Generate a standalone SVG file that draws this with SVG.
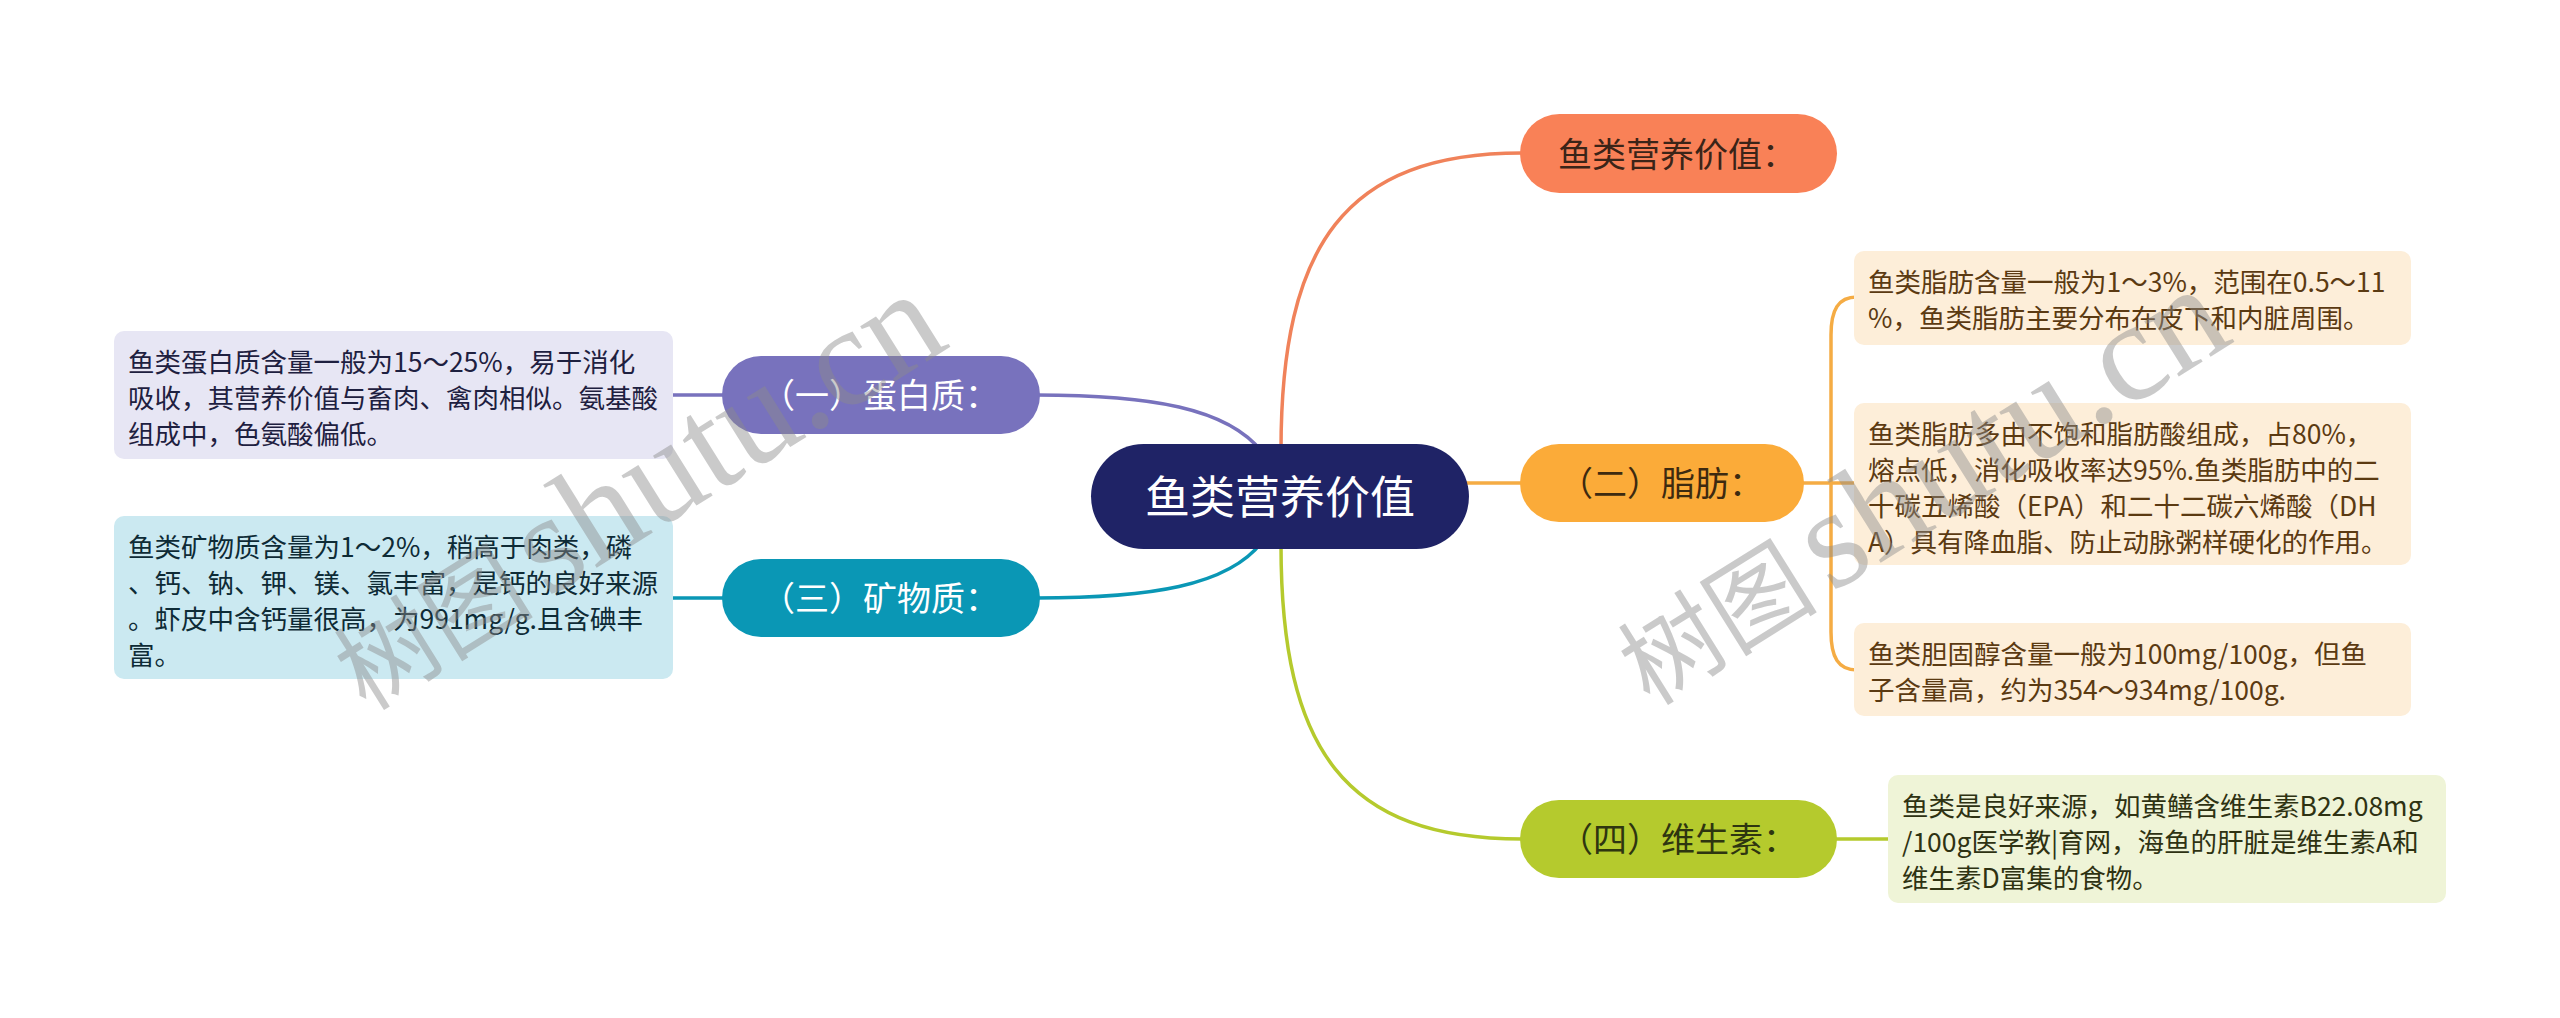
<svg xmlns="http://www.w3.org/2000/svg" width="2560" height="1018" viewBox="0 0 2560 1018">
<style>
.lbl{font-family:"Noto Sans CJK SC","Noto Sans",sans-serif;}
.leaf{font-family:"Noto Sans CJK SC","Noto Sans",sans-serif;font-size:26.5px;}
.con{fill:none;stroke-width:3.5;stroke-linecap:round;}
.wm{font-family:"Liberation Serif","Noto Sans CJK SC",serif;fill:#8c8c8c;opacity:0.45;}
</style>
<rect width="2560" height="1018" fill="#ffffff"/>
<g id="connectors">
  <path class="con" stroke="#f0825a" d="M1281,450 C1281,245 1345,153 1522,153"/>
  <path class="con" stroke="#b5ca2d" d="M1281,545 C1281,750 1345,839 1522,839"/>
  <path class="con" stroke="#f5ac44" d="M1460,483 H1522"/>
  <path class="con" stroke="#7872bd" d="M1036,395 C1150,395 1228,408 1262,452"/>
  <path class="con" stroke="#0a97b5" d="M1036,598 C1150,598 1228,586 1262,542"/>
  <path class="con" stroke="#7872bd" d="M670,395 H726"/>
  <path class="con" stroke="#0a97b5" d="M670,598 H726"/>
  <path class="con" stroke="#b5ca2d" d="M1834,839 H1891"/>
  <path class="con" stroke="#f5ac44" d="M1800,483 H1857"/>
  <path class="con" stroke="#f5ac44" d="M1857,297 C1838,297 1831,310 1831,335 V632 C1831,657 1838,670 1857,670"/>
</g>
<g id="root">
  <rect x="1091" y="444" width="378" height="105" rx="52.5" fill="#1f2366"/>
  <text class="lbl" x="1280" y="514" font-size="45" fill="#ffffff" text-anchor="middle">鱼类营养价值</text>
</g>
<g id="n-top">
  <rect x="1520" y="114" width="317" height="79" rx="39.5" fill="#f98157"/>
  <text class="lbl" x="1558" y="167" font-size="34" fill="#3b2418">鱼类营养价值：</text>
</g>
<g id="n-fat">
  <rect x="1520" y="444" width="284" height="78" rx="39" fill="#fbab39"/>
  <text class="lbl" x="1559" y="496" font-size="34" fill="#3d2a10">（二）脂肪：</text>
</g>
<g id="n-vit">
  <rect x="1520" y="800" width="317" height="78" rx="39" fill="#b5ca2d"/>
  <text class="lbl" x="1559" y="852" font-size="34" fill="#2e3510">（四）维生素：</text>
</g>
<g id="n-protein">
  <rect x="722" y="356" width="318" height="78" rx="39" fill="#7872bd"/>
  <text class="lbl" x="761" y="408" font-size="34" fill="#ffffff">（一）蛋白质：</text>
</g>
<g id="n-mineral">
  <rect x="722" y="559" width="318" height="78" rx="39" fill="#0a97b5"/>
  <text class="lbl" x="761" y="611" font-size="34" fill="#ffffff">（三）矿物质：</text>
</g>
<g id="leaf-protein">
  <rect x="114" y="331" width="559" height="128" rx="10" fill="#e7e6f4"/>
  <text class="leaf" fill="#1e2040">
    <tspan x="128" y="372">鱼类蛋白质含量一般为15～25%，易于消化</tspan>
    <tspan x="128" y="408">吸收，其营养价值与畜肉、禽肉相似。氨基酸</tspan>
    <tspan x="128" y="444">组成中，色氨酸偏低。</tspan>
  </text>
</g>
<g id="leaf-mineral">
  <rect x="114" y="516" width="559" height="163" rx="10" fill="#cbe9f1"/>
  <text class="leaf" fill="#0e2b36">
    <tspan x="128" y="557">鱼类矿物质含量为1～2%，稍高于肉类，磷</tspan>
    <tspan x="128" y="593">、钙、钠、钾、镁、氯丰富，是钙的良好来源</tspan>
    <tspan x="128" y="629">。虾皮中含钙量很高，为991mg/g.且含碘丰</tspan>
    <tspan x="128" y="665">富。</tspan>
  </text>
</g>
<g id="leaf-fat1">
  <rect x="1854" y="251" width="557" height="94" rx="10" fill="#fdeed9"/>
  <text class="leaf" fill="#5b3a12">
    <tspan x="1868" y="292">鱼类脂肪含量一般为1～3%，范围在0.5～11</tspan>
    <tspan x="1868" y="328">%，鱼类脂肪主要分布在皮下和内脏周围。</tspan>
  </text>
</g>
<g id="leaf-fat2">
  <rect x="1854" y="403" width="557" height="162" rx="10" fill="#fdeed9"/>
  <text class="leaf" fill="#5b3a12">
    <tspan x="1868" y="444">鱼类脂肪多由不饱和脂肪酸组成，占80%，</tspan>
    <tspan x="1868" y="480">熔点低，消化吸收率达95%.鱼类脂肪中的二</tspan>
    <tspan x="1868" y="516">十碳五烯酸（EPA）和二十二碳六烯酸（DH</tspan>
    <tspan x="1868" y="552">A）具有降血脂、防止动脉粥样硬化的作用。</tspan>
  </text>
</g>
<g id="leaf-fat3">
  <rect x="1854" y="623" width="557" height="93" rx="10" fill="#fdeed9"/>
  <text class="leaf" fill="#5b3a12">
    <tspan x="1868" y="664">鱼类胆固醇含量一般为100mg/100g，但鱼</tspan>
    <tspan x="1868" y="700">子含量高，约为354～934mg/100g.</tspan>
  </text>
</g>
<g id="leaf-vit">
  <rect x="1888" y="775" width="558" height="128" rx="10" fill="#eff4d7"/>
  <text class="leaf" fill="#2e3212">
    <tspan x="1902" y="816">鱼类是良好来源，如黄鳝含维生素B22.08mg</tspan>
    <tspan x="1902" y="852">/100g医学教|育网，海鱼的肝脏是维生素A和</tspan>
    <tspan x="1902" y="888">维生素D富集的食物。</tspan>
  </text>
</g>
<g id="watermarks">
  <text class="wm" transform="translate(366,712) rotate(-32)"><tspan font-size="100">树图</tspan><tspan font-size="142" dx="14">shutu.cn</tspan></text>
  <text class="wm" transform="translate(1650,707) rotate(-32)"><tspan font-size="100">树图</tspan><tspan font-size="142" dx="14">shutu.cn</tspan></text>
</g>
</svg>
